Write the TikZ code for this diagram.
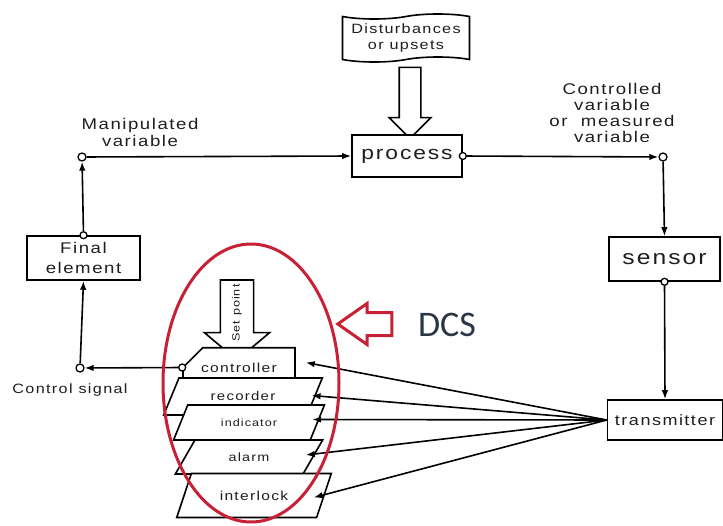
\documentclass[tikz,border=0pt]{standalone}
\usepackage{fontspec}
\setmainfont{Liberation Sans}
\newfontfamily\labfont[FakeStretch=1.2,LetterSpace=10]{Liberation Sans}
\newfontfamily\dcsfont{Carlito}
\usepackage{tikz}
\usetikzlibrary{arrows.meta,positioning,shapes.geometric,shapes.misc,shapes.symbols,shapes.arrows,calc}
\definecolor{dcsred}{RGB}{200,32,52}
\definecolor{inkgray}{RGB}{30,30,30}
\definecolor{dcsblue}{RGB}{42,54,68}
\tikzset{
  lab/.style n args={2}{text=inkgray, align=center, inner sep=0pt, font=\labfont\fontsize{#1}{#2}\selectfont},
  blockbox/.style={draw, line width=1.6pt, fill=white, align=center, inner sep=0pt},
  card/.style={trapezium, trapezium left angle=50, trapezium right angle=130,
    trapezium stretches=true, draw, line width=1.6pt, fill=white, inner sep=0pt},
  port/.style={circle, draw, line width=1.3pt, fill=white, inner sep=0pt, minimum size=8pt},
  link/.style={line width=1.6pt, -{Latex[length=9pt,width=6.5pt]}},
  hollowarrow/.style={single arrow, draw, line width=1.6pt, fill=white,
    inner xsep=0pt, single arrow head indent=0pt}
}

\begin{document}
\begin{tikzpicture}[x=1pt,y=-1pt]
\useasboundingbox (0,0) rectangle (723,525);

% process loop
\node[lab={13.5}{16}, tape, draw, line width=1.6pt, fill=white, minimum width=127pt, minimum height=48pt]
  (dist) at (406,38) {Disturbances\\or upsets};
\node[hollowarrow, rotate=-90, minimum height=71pt, inner ysep=10pt,
  single arrow head extend=10pt] (distarrow) at (410,97.5) {};
\node[lab={19}{19}, blockbox, minimum width=110pt, minimum height=42pt] (proc) at (407,156) {process};
\node[lab={15.5}{20}, blockbox, minimum width=113pt, minimum height=44pt] (fe) at (83.5,258) {Final\\element};
\node[lab={20.5}{20}, blockbox, minimum width=111pt, minimum height=44pt] (sensor) at (664.5,259) {sensor};
\node[lab={15}{15}, blockbox, minimum width=115pt, minimum height=40pt] (tx) at (665,420) {transmitter};

\node[port] (mv) at (82,157) {};
\node[port] (cv) at (663,157) {};
\node[port] (cs) at (80,368) {};
\node[port, minimum size=7pt] (procport) at (proc.east) {};
\node[port, minimum size=7pt] (feport) at (fe.north) {};
\node[port, minimum size=7pt] (sensport) at (sensor.south) {};

\node[lab={15.5}{17}] (mvlabel) at (140,132) {Manipulated\\variable};
\node[lab={15.5}{16}] (cvlabel) at (612,113) {Controlled\\variable\\or~~measured\\variable};
\node[lab={13.5}{14}] (cslabel) at (70,390) {Control signal};

\draw[link] (mv) -- (proc.west);
\draw[link] (procport) -- (cv);
\draw[link] (cv) -- (sensor.north);
\draw[link] (sensport) -- (tx.north);
\draw[link] (feport) -- (mv);
\draw[link] (cs) -- (fe.south);

% DCS stack
\node[lab={10.5}{10}, hollowarrow, rotate=90, shape border rotate=180, minimum height=80pt, inner ysep=11pt,
  single arrow head extend=16pt, single arrow tip angle=100] (setpoint) at (237,313) {Set point};
\node[lab={13}{13}, chamfered rectangle, chamfered rectangle corners=north west,
  chamfered rectangle xsep=17pt, chamfered rectangle ysep=15pt,
  blockbox, minimum width=112pt, minimum height=31pt] (ctl) at (239,367.5) {controller};
\node[lab={12.5}{13}, card, minimum width=160pt, minimum height=37pt] (rec) at (243,396.5) {recorder};
\node[lab={10.5}{11}, card, minimum width=152pt, minimum height=35pt] (ind) at (249,422.5) {indicator};
\node[lab={12}{12}, card, minimum width=148pt, minimum height=34pt] (alm) at (249,457) {alarm};
\node[lab={13}{13}, card, minimum width=155pt, minimum height=44pt] (ilk) at (254,495.5) {interlock};
\node[port, minimum size=7pt] (ctlport) at (ctl.west) {};
\draw[link] (ctlport) -- (cs);

\foreach \card/\dx/\dy in {ctl/10/5,rec/-4/1,ind/-6/3,alm/-8/2,ilk/-11/-2}
  \draw[link] (tx.west) -- ([xshift=\dx pt,yshift=\dy pt]\card.east);

% DCS marker
\node[ellipse, draw=dcsred, line width=3pt, minimum width=176pt, minimum height=278pt] (ring) at (251,383) {};
\node[single arrow, draw=dcsred, line width=3pt, shape border rotate=180, minimum height=54pt,
  inner xsep=0pt, inner ysep=10pt, single arrow head extend=9pt, single arrow tip angle=70,
  single arrow head indent=0pt] (dcsarrow) at (373,324) {};
\node[text=dcsblue, font=\dcsfont\fontsize{36}{36}\selectfont, inner sep=0pt] (dcs) at (447,325) {DCS};
\end{tikzpicture}
\end{document}
